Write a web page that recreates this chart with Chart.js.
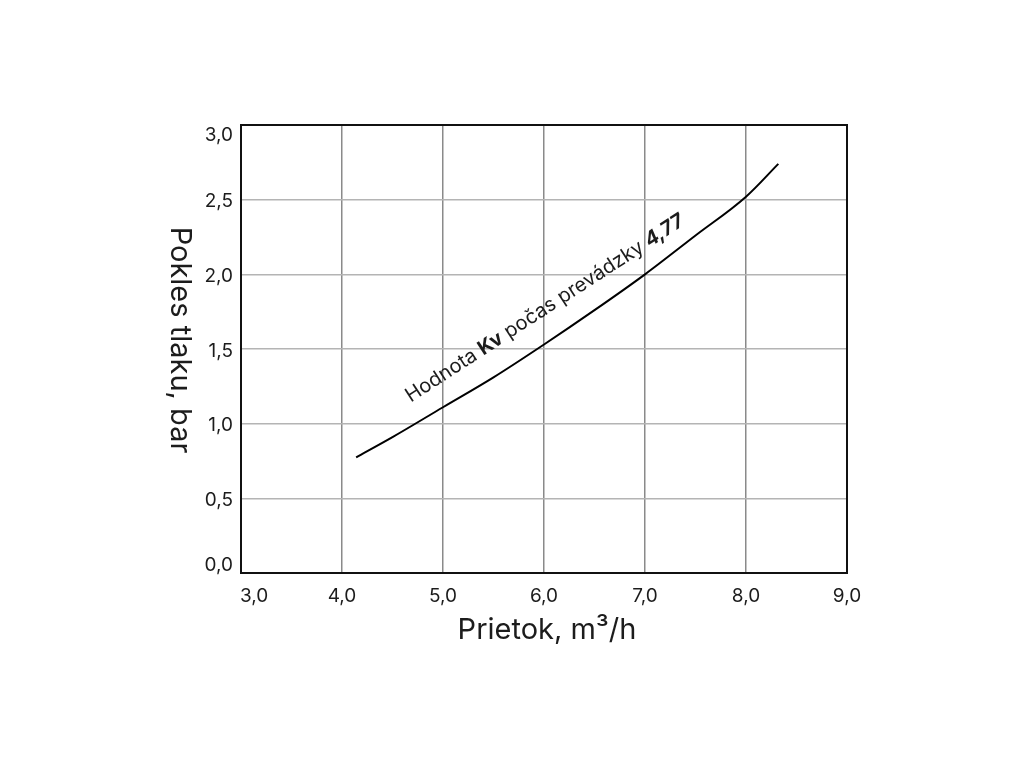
<!DOCTYPE html>
<html>
<head>
<meta charset="utf-8">
<script src="https://cdn.jsdelivr.net/npm/chart.js@4.4.0/dist/chart.umd.min.js"></script>
<style>
    html, body { margin: 0; padding: 0; background: #fff; }
    #wrap { width: 1024px; height: 768px; position: relative; }
</style>
</head>
<body>
<div id="wrap"><canvas id="chart"></canvas></div>
<script>
// curve: flow (m3/h) vs pressure drop (bar)
const flowValues   = [4.14,  4.5,  5.0,  5.5,  6.0,  6.5,  7.0,  7.5,  8.0,  8.32];
const pressureDrop = [0.775, 0.91, 1.11, 1.31, 1.53, 1.76, 2.0, 2.26, 2.52, 2.74];

const xTitle = 'Prietok, m³/h';
const yTitle = 'Pokles tlaku, bar';
const labelParts = [
    { text: 'Hodnota ', weight: '400', style: 'normal' },
    { text: 'Kv', weight: '700', style: 'normal' },
    { text: ' počas prevádzky ', weight: '400', style: 'normal' },
    { text: '4,77', weight: '700', style: 'italic' }
];
const labelAnchor = { x: 4.68, y: 1.14 };

const FONT = 'Inter, "Noto Sans", sans-serif';
const INK = '#1c1c1c';

function fmt(v) {
    return v.toFixed(1).replace('.', ',');
}

const extras = {
    id: 'extras',
    afterDraw(chart) {
        const ctx = chart.ctx;
        const a = chart.chartArea;
        const xs = chart.scales.x;
        const ys = chart.scales.y;
        ctx.save();

        // frame round the plot
        ctx.strokeStyle = '#111';
        ctx.lineWidth = 2;
        ctx.strokeRect(a.left, a.top, a.right - a.left, a.bottom - a.top);

        ctx.fillStyle = INK;
        ctx.font = '400 19px ' + FONT;

        // y tick labels, the end ones pulled inside the frame
        ctx.textAlign = 'right';
        ctx.textBaseline = 'middle';
        ys.ticks.forEach(t => {
            let py = ys.getPixelForValue(t.value) + 2;
            py = Math.min(Math.max(py, a.top + 10), a.bottom - 8);
            ctx.fillText(fmt(t.value), a.left - 8, py);
        });

        // x tick labels, the first one starts at the frame
        ctx.textAlign = 'center';
        xs.ticks.forEach(t => {
            const s = fmt(t.value);
            const w = ctx.measureText(s).width;
            let px = xs.getPixelForValue(t.value);
            px = Math.max(px, a.left + w / 2 - 1);
            ctx.fillText(s, px, a.bottom + 23);
        });

        // x title
        ctx.font = '400 29px ' + FONT;
        ctx.fillText(xTitle, (a.left + a.right) / 2 + 3, 630);

        // y title, reads top to bottom
        ctx.save();
        ctx.translate(180, (a.top + a.bottom) / 2 - 9);
        ctx.rotate(Math.PI / 2);
        ctx.fillText(yTitle, 0, 0);
        ctx.restore();

        // label along the curve
        ctx.save();
        ctx.translate(xs.getPixelForValue(labelAnchor.x), ys.getPixelForValue(labelAnchor.y));
        ctx.rotate(-33 * Math.PI / 180);
        ctx.textAlign = 'left';
        ctx.textBaseline = 'alphabetic';
        let pos = 0;
        labelParts.forEach(p => {
            ctx.font = p.style + ' ' + p.weight + ' 20px ' + FONT;
            ctx.fillText(p.text, pos, 0);
            pos += ctx.measureText(p.text).width;
        });
        ctx.restore();

        ctx.restore();
    }
};

new Chart(document.getElementById('chart'), {
    type: 'line',
    data: {
        datasets: [{
            data: flowValues.map((f, i) => ({ x: f, y: pressureDrop[i] })),
            borderColor: '#000',
            borderWidth: 2,
            pointRadius: 0,
            fill: false,
            cubicInterpolationMode: 'monotone'
        }]
    },
    options: {
        responsive: true,
        maintainAspectRatio: false,
        animation: false,
        layout: { padding: { top: 125, right: 177, bottom: 0, left: 0 } },
        plugins: {
            legend: { display: false },
            tooltip: { enabled: false }
        },
        scales: {
            x: {
                type: 'linear',
                min: 3,
                max: 9,
                ticks: { stepSize: 1, display: false },
                grid: { color: '#8a8a8a', lineWidth: 1.5, drawTicks: false },
                border: { display: false },
                afterFit: s => { s.height = 768 - 573; }
            },
            y: {
                min: 0,
                max: 3,
                ticks: { stepSize: 0.5, display: false },
                grid: { color: '#b4b4b4', lineWidth: 1.5, drawTicks: false },
                border: { display: false },
                afterFit: s => { s.width = 241; }
            }
        }
    },
    plugins: [extras]
});
</script>
</body>
</html>
